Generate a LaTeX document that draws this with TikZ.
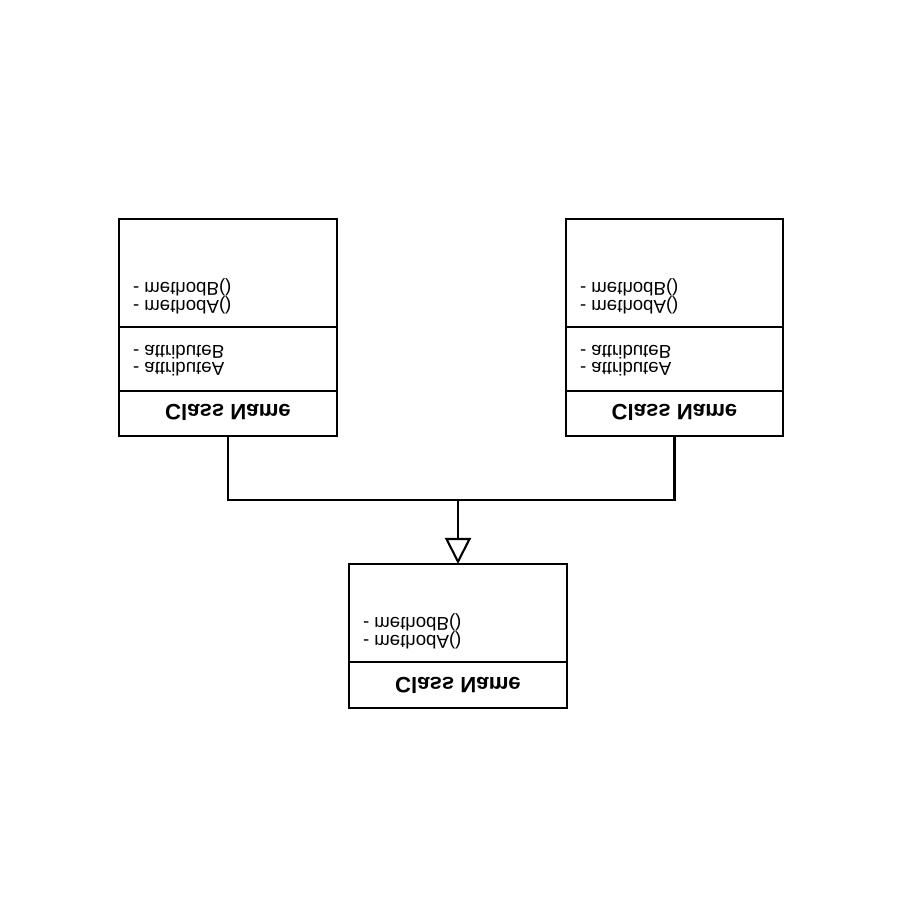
\documentclass[tikz,border=0pt]{standalone}
\usepackage{fontspec}
\setmainfont{Liberation Sans}
\usetikzlibrary{arrows.meta}
\begin{document}
\begin{tikzpicture}[x=0.01cm, y=-0.01cm,
  line width=0.6pt,
  box/.style={draw, rectangle, inner sep=0pt, outer sep=0pt, minimum width=2.17cm},
  member/.style={anchor=west, inner sep=0pt, yscale=-1, font=\fontsize{5.3pt}{6pt}\selectfont},
  title/.style={inner sep=0pt, yscale=-1, font=\fontsize{6.3pt}{7pt}\selectfont\bfseries},
  inherit/.style={-{Triangle[open, length=0.26cm, width=0.26cm]}}]
\useasboundingbox (0,0) rectangle (900,900);

% left class
\node[box, minimum height=1.08cm] (lm) at (228,273) {};
\node[box, minimum height=0.64cm] (la) at (228,359) {};
\node[box, minimum height=0.45cm] (ln) at (228,413.5) {};
\node[member] (lmb) at (132,287) {- methodB()};
\node[member] (lma) at (132,305) {- methodA()};
\node[member] (lab) at (132,352) {- attributeB};
\node[member] (laa) at (132,369) {- attributeA};
\node[title] (lt) at (228,412) {Class Name};

% right class
\node[box, minimum height=1.08cm] (rm) at (674.5,273) {};
\node[box, minimum height=0.64cm] (ra) at (674.5,359) {};
\node[box, minimum height=0.45cm] (rn) at (674.5,413.5) {};
\node[member] (rmb) at (579,287) {- methodB()};
\node[member] (rma) at (579,305) {- methodA()};
\node[member] (rab) at (579,352) {- attributeB};
\node[member] (raa) at (579,369) {- attributeA};
\node[title] (rt) at (674.5,412) {Class Name};

% base class
\node[box, minimum height=0.98cm] (bm) at (458,613) {};
\node[box, minimum height=0.46cm] (bn) at (458,685) {};
\node[member] (bmb) at (362,622) {- methodB()};
\node[member] (bma) at (362,640) {- methodA()};
\node[title] (bt) at (458,685) {Class Name};

% generalization connectors
\coordinate (joint) at (458,500);
\draw (ln.south) |- (joint) -| (rn.south);
\draw[inherit] (joint) -- (bm.north);
\end{tikzpicture}
\end{document}
